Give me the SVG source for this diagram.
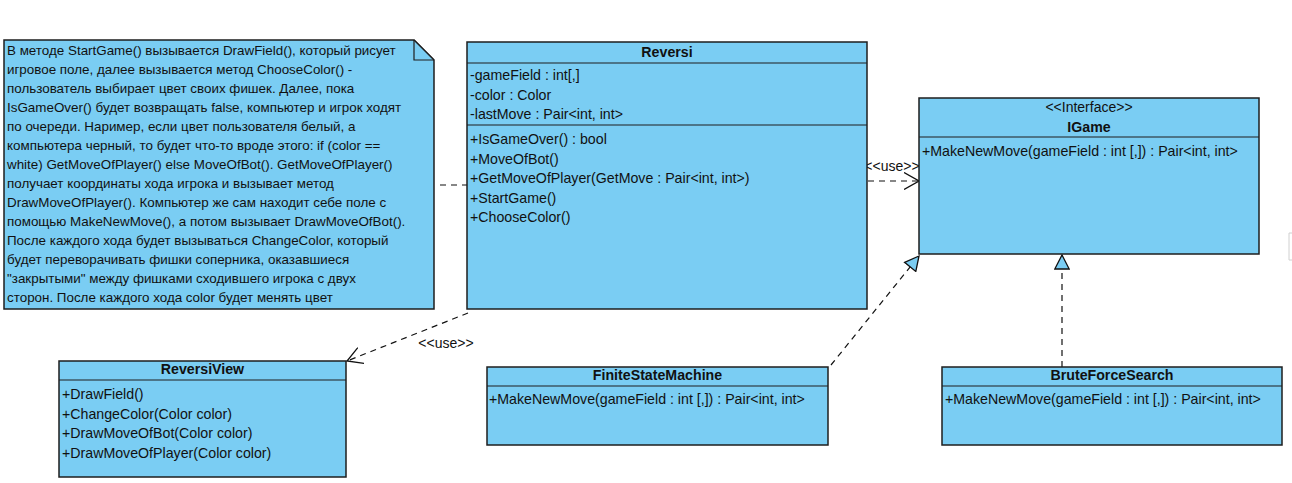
<svg xmlns="http://www.w3.org/2000/svg" width="1292" height="483" viewBox="0 0 1292 483">
<style>
.box{fill:#7acdf3;stroke:#1e1e1e;stroke-width:1.5}
.sep{stroke:#1e1e1e;stroke-width:1.2}
.t{font-family:"Liberation Sans",Arial,sans-serif;font-size:14.2px;fill:#111}
.b{font-weight:bold;text-anchor:middle}
.c{text-anchor:middle}
.n{font-family:"Liberation Sans",Arial,sans-serif;font-size:13.4px;fill:#111}
.dash{fill:none;stroke:#111;stroke-width:1.2;stroke-dasharray:6,5}
.lbl{font-family:"Liberation Sans",Arial,sans-serif;font-size:14px;fill:#111;text-anchor:middle}
</style>
<defs>
<marker id="open" viewBox="0 0 16 18" refX="15" refY="9" markerWidth="16" markerHeight="18" markerUnits="userSpaceOnUse" orient="auto">
<path d="M0,0.5 L15,9 L0,17.5" fill="none" stroke="#111" stroke-width="1.3"/>
</marker>
<marker id="tri" viewBox="0 0 16 16" refX="15" refY="8" markerWidth="16" markerHeight="16" markerUnits="userSpaceOnUse" orient="auto">
<path d="M1,0.8 L15,8 L1,15.2 Z" fill="#7acdf3" stroke="#111" stroke-width="1.3"/>
</marker>
</defs>
<rect width="1292" height="483" fill="#ffffff"/>
<path d="M1292,233 H1289 V260 H1292" fill="none" stroke="#d0d0d0" stroke-width="1"/>

<g id="connectors">
<line class="dash" x1="440" y1="185" x2="467" y2="185"/>
<line class="dash" x1="868" y1="181" x2="919" y2="181" marker-end="url(#open)"/>
<text class="lbl" x="892" y="170.5">&lt;&lt;use&gt;&gt;</text>
<line class="dash" x1="468" y1="313" x2="347" y2="361" marker-end="url(#open)"/>
<text class="lbl" x="446" y="347.5">&lt;&lt;use&gt;&gt;</text>
<line class="dash" x1="831" y1="365" x2="919" y2="256" marker-end="url(#tri)"/>
<line class="dash" x1="1062" y1="367" x2="1062" y2="255" marker-end="url(#tri)"/>
</g>

<g id="note">
<path class="box" d="M4,40 H414 L434,60 V309 H4 Z"/>
<path d="M414,40 V60 H434" fill="#7acdf3" stroke="#1e1e1e" stroke-width="1.2"/>
<path d="M414,40 L434,60" fill="none" stroke="#1e1e1e" stroke-width="1.2"/>
<text class="n" x="7" y="54.5">В методе StartGame() вызывается DrawField(), который рисует</text>
<text class="n" x="7" y="73.5">игровое поле, далее вызывается метод ChooseColor() -</text>
<text class="n" x="7" y="92.5">пользователь выбирает цвет своих фишек. Далее, пока</text>
<text class="n" x="7" y="111.5">IsGameOver() будет возвращать false, компьютер и игрок ходят</text>
<text class="n" x="7" y="130.5">по очереди. Наример, если цвет пользователя белый, а</text>
<text class="n" x="7" y="149.5">компьютера черный, то будет что-то вроде этого: if (color ==</text>
<text class="n" x="7" y="168.5">white) GetMoveOfPlayer() else MoveOfBot(). GetMoveOfPlayer()</text>
<text class="n" x="7" y="187.5">получает координаты хода игрока и вызывает метод</text>
<text class="n" x="7" y="206.5">DrawMoveOfPlayer(). Компьютер же сам находит себе поле с</text>
<text class="n" x="7" y="225.5">помощью MakeNewMove(), а потом вызывает DrawMoveOfBot().</text>
<text class="n" x="7" y="244.5">После каждого хода будет вызываться ChangeColor, который</text>
<text class="n" x="7" y="263.5">будет переворачивать фишки соперника, оказавшиеся</text>
<text class="n" x="7" y="282.5">"закрытыми" между фишками сходившего игрока с двух</text>
<text class="n" x="7" y="301.5">сторон. После каждого хода color будет менять цвет</text>
</g>

<g id="Reversi">
<rect class="box" x="467" y="42" width="400" height="267"/>
<line class="sep" x1="467" y1="63" x2="867" y2="63"/>
<line class="sep" x1="467" y1="125" x2="867" y2="125"/>
<text class="t b" x="667" y="56.5">Reversi</text>
<text class="t" x="470" y="80">-gameField : int[,]</text>
<text class="t" x="470" y="99.5">-color : Color</text>
<text class="t" x="470" y="119">-lastMove : Pair&lt;int, int&gt;</text>
<text class="t" x="470" y="144">+IsGameOver() : bool</text>
<text class="t" x="470" y="163.5">+MoveOfBot()</text>
<text class="t" x="470" y="183">+GetMoveOfPlayer(GetMove : Pair&lt;int, int&gt;)</text>
<text class="t" x="470" y="202.5">+StartGame()</text>
<text class="t" x="470" y="222">+ChooseColor()</text>
</g>

<g id="IGame">
<rect class="box" x="919" y="98" width="340" height="156"/>
<line class="sep" x1="919" y1="137" x2="1259" y2="137"/>
<text class="t c" x="1089" y="111.5" style="font-size:14px">&lt;&lt;Interface&gt;&gt;</text>
<text class="t b" x="1089" y="132">IGame</text>
<text class="t" x="922" y="156">+MakeNewMove(gameField : int [,]) : Pair&lt;int, int&gt;</text>
</g>

<g id="ReversiView">
<rect class="box" x="59" y="361" width="287" height="116"/>
<line class="sep" x1="59" y1="380" x2="346" y2="380"/>
<text class="t b" x="202.5" y="374">ReversiView</text>
<text class="t" x="62" y="399">+DrawField()</text>
<text class="t" x="62" y="418.5">+ChangeColor(Color color)</text>
<text class="t" x="62" y="438">+DrawMoveOfBot(Color color)</text>
<text class="t" x="62" y="457.5">+DrawMoveOfPlayer(Color color)</text>
</g>

<g id="FiniteStateMachine">
<rect class="box" x="487" y="367" width="341" height="78"/>
<line class="sep" x1="487" y1="386" x2="828" y2="386"/>
<text class="t b" x="657.5" y="380">FiniteStateMachine</text>
<text class="t" x="489" y="404">+MakeNewMove(gameField : int [,]) : Pair&lt;int, int&gt;</text>
</g>

<g id="BruteForceSearch">
<rect class="box" x="942" y="367" width="340" height="78"/>
<line class="sep" x1="942" y1="386" x2="1282" y2="386"/>
<text class="t b" x="1112" y="380">BruteForceSearch</text>
<text class="t" x="945" y="404">+MakeNewMove(gameField : int [,]) : Pair&lt;int, int&gt;</text>
</g>
</svg>
